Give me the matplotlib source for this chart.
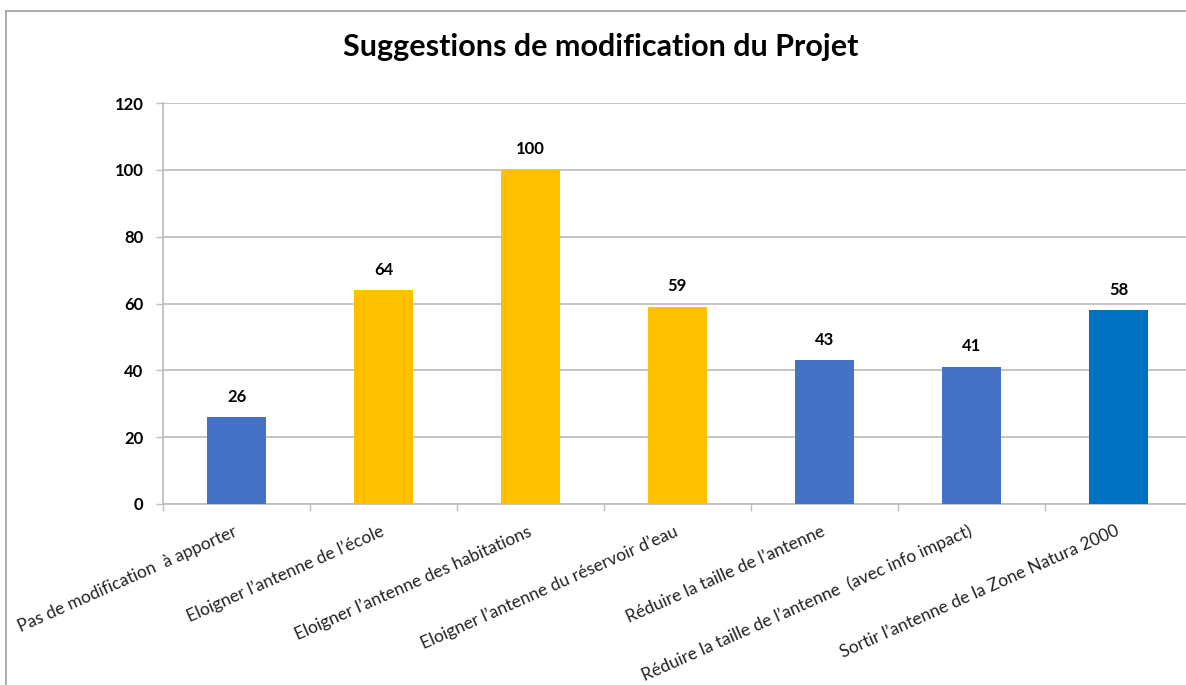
import matplotlib
matplotlib.use("Agg")
import matplotlib.pyplot as plt
from matplotlib.lines import Line2D

categories = [
    "Pas de modification  à apporter",
    "Eloigner l\u2019antenne de l\u2019école",
    "Eloigner l\u2019antenne des habitations",
    "Eloigner l\u2019antenne du réservoir d\u2019eau",
    "Réduire la taille de l\u2019antenne",
    "Réduire la taille de l\u2019antenne  (avec info impact)",
    "Sortir l\u2019antenne de la Zone Natura 2000",
]
values = [26, 64, 100, 59, 43, 41, 58]
colors = ["#4472C4", "#FFC000", "#FFC000", "#FFC000", "#4472C4", "#4472C4", "#0070C0"]
yticks = [0, 20, 40, 60, 80, 100, 120]
title = "Suggestions de modification du Projet"

plt.rcParams['font.family'] = ['Lato', 'DejaVu Sans']

W, H = 1186, 685
fig = plt.figure(figsize=(W / 100, H / 100), dpi=100)
fig.patch.set_facecolor("white")

ax = fig.add_axes([163 / W, 1 - 504 / H, 1029 / W, 401 / H])
x = list(range(len(categories)))
ax.bar(x, values, width=0.4, color=colors, zorder=3)
ax.set_xlim(-0.5, len(categories) - 0.5)
ax.set_ylim(0, 120)

grid_c = "#BFBFBF"
ax.set_yticks(yticks)
ax.set_yticklabels([str(v) for v in yticks], fontsize=12, fontweight="bold", color="black")
ax.yaxis.grid(True, color=grid_c, linewidth=1.3, zorder=0)
ax.tick_params(axis="y", length=5, width=1, color=grid_c, pad=9)

ax.set_xticks(x)
ax.set_xticklabels(categories, rotation=24, ha="right", va="center",
                   rotation_mode="anchor", fontsize=12.5, color="#222222")
ax.tick_params(axis="x", which="major", length=0, pad=19)
ax.set_xticks([i - 0.5 for i in range(len(categories) + 1)], minor=True)
ax.tick_params(axis="x", which="minor", length=5, width=1, color=grid_c)

for s in ["top", "right"]:
    ax.spines[s].set_visible(False)
for s in ["left", "bottom"]:
    ax.spines[s].set_color(grid_c)
    ax.spines[s].set_linewidth(1.3)

for xi, v in zip(x, values):
    ax.annotate(str(v), (xi, v), xytext=(0, 9), textcoords="offset points",
                ha="center", va="bottom", fontsize=12, fontweight="bold", color="black")

fig.text(601 / W, 1 - 47 / H, title, ha="center", va="center",
         fontsize=22, fontweight="bold", color="black")

# outer chart frame (top and left visible)
fig.add_artist(Line2D([6 / W, 1.0], [1 - 11 / H, 1 - 11 / H], transform=fig.transFigure,
                      color="#A6A6A6", linewidth=1.3))
fig.add_artist(Line2D([6 / W, 6 / W], [0, 1 - 11 / H], transform=fig.transFigure,
                      color="#A6A6A6", linewidth=1.3))

fig.savefig("out.png", dpi=100)
